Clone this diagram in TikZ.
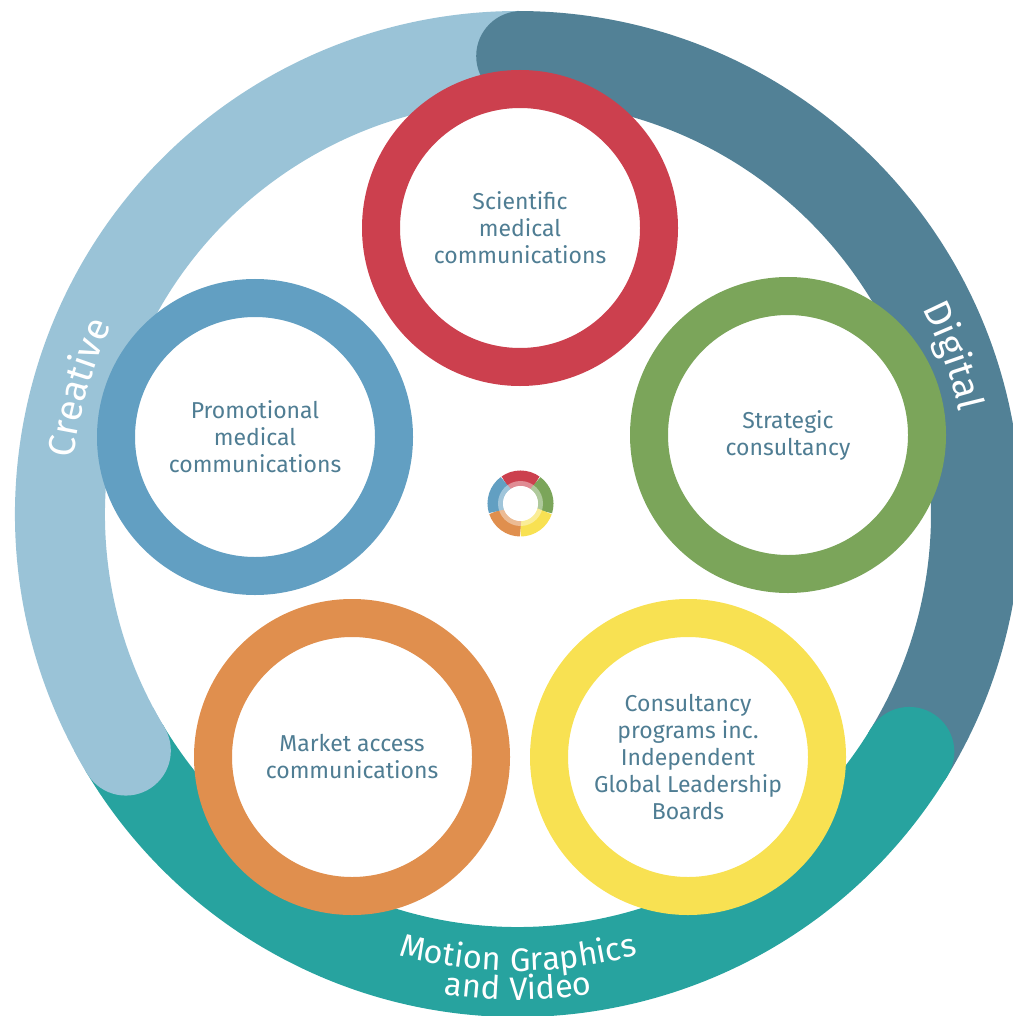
\documentclass[tikz,border=0pt]{standalone}
\usepackage{fontspec}
\setmainfont{Fira Sans}
\newfontfamily\labfont[LetterSpace=4]{Fira Sans}
\usetikzlibrary{decorations.text}
\definecolor{creativec}{HTML}{9AC3D7}
\definecolor{digitalc}{HTML}{528196}
\definecolor{tealc}{HTML}{27A39F}
\definecolor{redc}{HTML}{CC404E}
\definecolor{bluec}{HTML}{629FC2}
\definecolor{greenc}{HTML}{7BA55A}
\definecolor{orangec}{HTML}{E08F4E}
\definecolor{yellowc}{HTML}{F8E152}
\definecolor{textc}{HTML}{4F7D93}
\newcommand\arcfont{\labfont\fontsize{32.5}{32.5}\selectfont}
\newcommand\bigarcfont{\labfont\fontsize{37.5}{37.5}\selectfont}
\begin{document}
\begin{tikzpicture}[x=1pt,y=-1pt,
  band/.style={line width=90pt},
  svc/.style={circle, draw=#1, line width=38pt, fill=white, minimum size=278pt, inner sep=0pt},
  svctext/.style={text=textc, align=center, font=\fontsize{23}{27}\selectfont},
  arclabel/.style={decorate, decoration={text along path, text={|\arcfont|#1}, text color=white, text align=center}},
  bigarclabel/.style={decorate, decoration={text along path, text={|\bigarcfont|#1}, text color=white, text align=center}}
]
\useasboundingbox (0,0) rectangle (1012,1016);
\coordinate (C) at (518,514);
% outer band
\draw[band, creativec] (C) ++(148.9:458) arc[start angle=148.9, end angle=271, radius=458];
\draw[band, digitalc] (C) ++(270.4:458) arc[start angle=270.4, end angle=392, radius=458];
\draw[band, tealc] (C) ++(391.3:458) arc[start angle=391.3, end angle=509.4, radius=458];
\draw[band, creativec] (C) ++(148.9:458) arc[start angle=148.9, end angle=152, radius=458];
% rounded starts
\fill[creativec] (C) ++(148.9:458) circle[radius=45];
\fill[digitalc] (C) ++(270.4:458) circle[radius=45];
\fill[tealc] (C) ++(391.3:458) circle[radius=45];
% band labels
\path[bigarclabel=Creative] (C) ++(166:448) arc[start angle=166, end angle=226, radius=448];
\path[bigarclabel=Digital] (C) ++(310:453) arc[start angle=310, end angle=370, radius=453];
\path[arclabel=Motion Graphics] (C) ++(120:457) arc[start angle=120, end angle=60, radius=457];
\path[arclabel=and Video] (C) ++(120:486) arc[start angle=120, end angle=60, radius=486];
% service circles
\node[svc=redc] (sci) at (520,228) {};
\node[svc=bluec] (pro) at (255,437) {};
\node[svc=greenc] (str) at (788,435) {};
\node[svc=orangec] (mkt) at (352,757) {};
\node[svc=yellowc] (con) at (688,757) {};
\node[svctext] (scit) at (sci) {Scientific\\medical\\communications};
\node[svctext] (prot) at (pro) {Promotional\\medical\\communications};
\node[svctext] (strt) at (str) {Strategic\\consultancy};
\node[svctext] (mktt) at (mkt) {Market access\\communications};
\node[svctext] (cont) at (con) {Consultancy\\programs inc.\\Independent\\Global Leadership\\Boards};
% centre logo
\coordinate (L) at (520.5,503.5);
\foreach \a/\c in {-126/redc, -54/greenc, 18/yellowc, 90/orangec, 162/bluec}
  \draw[line width=15.5pt, \c] (L) ++(\a:25.25) arc[start angle=\a, end angle=\a+72.3, radius=25.25];
\draw[white, opacity=0.4, line width=5pt] (L) circle[radius=20];
\fill[white] (L) circle[radius=17.5];
\end{tikzpicture}
\end{document}
